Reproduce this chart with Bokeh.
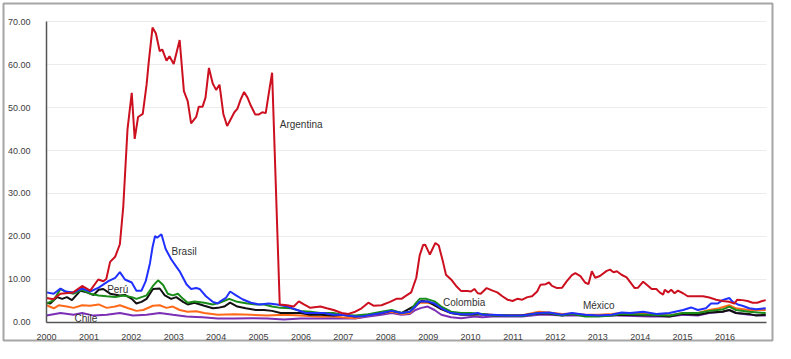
from bokeh.plotting import figure
from bokeh.models import Range1d, FixedTicker, NumeralTickFormatter, ColumnDataSource
from bokeh.core.properties import value
from bokeh.embed import file_html
from bokeh.resources import INLINE

# ---------------- data (decimal years, percent) ----------------
arg_t = [2000.00, 2000.16, 2000.33, 2000.63, 2000.84, 2001.03, 2001.22, 2001.34, 2001.41, 2001.50,
         2001.62, 2001.73, 2001.81, 2001.91, 2002.01, 2002.08, 2002.16, 2002.27, 2002.36, 2002.41,
         2002.50, 2002.58, 2002.67, 2002.73, 2002.83, 2002.90, 2003.00, 2003.14, 2003.24, 2003.33,
         2003.41, 2003.53, 2003.59, 2003.68, 2003.75, 2003.83, 2003.92, 2004.00, 2004.08, 2004.17,
         2004.26, 2004.35, 2004.43, 2004.50, 2004.58, 2004.66, 2004.74, 2004.82, 2004.92, 2005.01,
         2005.09, 2005.17, 2005.25, 2005.32, 2005.50, 2005.67, 2005.83, 2005.95, 2006.07, 2006.22,
         2006.46, 2006.61, 2006.77, 2006.96, 2007.12, 2007.28, 2007.43, 2007.59, 2007.71, 2007.90,
         2008.10, 2008.25, 2008.37, 2008.49, 2008.60, 2008.72, 2008.80, 2008.88, 2008.93, 2009.04,
         2009.17, 2009.25, 2009.35, 2009.42, 2009.54, 2009.66, 2009.78, 2009.93, 2010.01, 2010.09,
         2010.17, 2010.24, 2010.38, 2010.52, 2010.63, 2010.75, 2010.87, 2010.99, 2011.10, 2011.22,
         2011.34, 2011.45, 2011.57, 2011.65, 2011.77, 2011.85, 2011.92, 2012.04, 2012.16, 2012.27,
         2012.39, 2012.47, 2012.59, 2012.70, 2012.78, 2012.86, 2012.94, 2013.05, 2013.21, 2013.29,
         2013.37, 2013.45, 2013.56, 2013.68, 2013.80, 2013.87, 2013.95, 2014.07, 2014.19, 2014.27,
         2014.38, 2014.46, 2014.54, 2014.58, 2014.66, 2014.73, 2014.81, 2014.89, 2015.01, 2015.12,
         2015.24, 2015.48, 2015.63, 2015.79, 2015.94, 2016.10, 2016.22, 2016.29, 2016.41, 2016.53,
         2016.65, 2016.76, 2016.88, 2016.96]
arg_v = [5.7, 5.4, 6.7, 7.0, 8.5, 7.4, 10.0, 9.6, 10.1, 14.1,
         15.3, 18.2, 26.9, 44.9, 53.4, 42.7, 47.8, 48.5, 55.3, 60.5,
         68.6, 67.2, 63.1, 63.5, 60.9, 61.9, 60.1, 65.7, 53.8, 51.5,
         46.3, 47.8, 50.2, 50.2, 52.3, 59.2, 55.6, 54.1, 55.3, 48.5,
         45.7, 47.4, 48.9, 49.7, 51.9, 53.6, 52.3, 50.4, 48.4, 48.4,
         48.9, 48.7, 53.8, 58.1, 4.2, 4.0, 3.7, 4.9, 4.2, 3.4,
         3.7, 3.3, 2.9, 2.2, 2.0, 2.5, 3.3, 4.6, 3.9, 4.0,
         4.8, 5.5, 5.5, 6.3, 7.0, 10.4, 15.6, 18.0, 18.1, 15.8,
         18.5, 17.9, 14.1, 11.1, 10.0, 8.5, 7.3, 7.3, 7.2, 7.8,
         6.8, 6.7, 8.0, 7.4, 7.0, 6.1, 5.3, 5.0, 5.5, 5.3,
         5.9, 6.1, 7.2, 8.8, 8.9, 9.3, 8.5, 8.0, 8.1, 9.6,
         11.0, 11.5, 10.8, 9.3, 8.9, 11.9, 10.4, 10.8, 12.0, 12.3,
         11.7, 11.9, 11.1, 10.5, 8.9, 8.0, 8.1, 9.5, 8.5, 7.8,
         7.8, 7.0, 6.5, 7.6, 7.0, 7.6, 6.8, 7.4, 6.8, 6.1,
         6.1, 6.1, 5.8, 5.3, 5.0, 4.8, 4.4, 5.3, 5.2, 5.0,
         4.6, 4.6, 5.0, 5.2]

bra_t = [2000.00, 2000.17, 2000.33, 2000.45, 2000.64, 2000.84, 2001.03, 2001.23, 2001.46, 2001.62,
         2001.73, 2001.85, 2002.01, 2002.12, 2002.24, 2002.34, 2002.44, 2002.50, 2002.56, 2002.61,
         2002.71, 2002.81, 2002.94, 2003.06, 2003.14, 2003.30, 2003.41, 2003.53, 2003.61, 2003.76,
         2003.92, 2004.04, 2004.08, 2004.23, 2004.33, 2004.47, 2004.62, 2004.82, 2005.01, 2005.25,
         2005.44, 2005.68, 2005.91, 2006.11, 2006.34, 2006.54, 2006.77, 2006.96, 2007.28, 2007.44,
         2007.67, 2007.90, 2008.14, 2008.37, 2008.57, 2008.70, 2008.80, 2008.99, 2009.15, 2009.31,
         2009.54, 2009.78, 2010.01, 2010.17, 2010.28, 2010.52, 2010.83, 2011.22, 2011.61, 2011.85,
         2012.16, 2012.39, 2012.70, 2013.02, 2013.33, 2013.56, 2013.76, 2014.07, 2014.38, 2014.69,
         2015.01, 2015.20, 2015.36, 2015.55, 2015.67, 2015.83, 2015.94, 2016.10, 2016.18, 2016.30,
         2016.41, 2016.57, 2016.73, 2016.96]
bra_v = [7.0, 6.7, 7.9, 7.2, 7.0, 7.9, 7.2, 8.1, 9.6, 10.4,
         11.7, 10.0, 9.3, 7.4, 7.4, 9.6, 13.8, 17.5, 20.1, 19.7,
         20.5, 17.1, 14.7, 13.0, 11.9, 8.9, 7.8, 8.0, 7.8, 6.1,
         4.8, 4.4, 4.8, 5.7, 7.2, 6.3, 5.4, 4.6, 4.2, 4.4,
         4.2, 3.7, 2.9, 2.2, 2.2, 2.2, 1.8, 1.8, 1.4, 1.4,
         1.8, 2.2, 2.7, 2.2, 2.5, 3.7, 4.9, 4.9, 4.4, 3.3,
         2.2, 1.9, 1.9, 2.2, 1.8, 1.8, 1.6, 1.6, 2.2, 2.3,
         1.8, 2.2, 1.8, 1.6, 1.8, 2.3, 2.2, 2.5, 2.0, 2.2,
         2.9, 3.5, 2.9, 3.3, 4.4, 4.4, 5.2, 5.7, 4.8, 4.2,
         3.9, 3.3, 3.1, 3.3]

per_t = [2000.00, 2000.09, 2000.25, 2000.37, 2000.48, 2000.60, 2000.80, 2000.95, 2001.11, 2001.23,
         2001.34, 2001.50, 2001.73, 2001.85, 2002.01, 2002.12, 2002.24, 2002.36, 2002.51, 2002.67,
         2002.79, 2002.94, 2003.06, 2003.22, 2003.33, 2003.49, 2003.72, 2003.92, 2004.04, 2004.19,
         2004.33, 2004.50, 2004.70, 2004.94, 2005.13, 2005.32, 2005.52, 2005.76, 2005.99, 2006.22,
         2006.46, 2006.77, 2006.96, 2007.28, 2007.59, 2007.90, 2008.14, 2008.37, 2008.70, 2008.84,
         2008.99, 2009.15, 2009.31, 2009.54, 2009.78, 2010.01, 2010.28, 2010.52, 2010.83, 2011.22,
         2011.61, 2011.85, 2012.16, 2012.39, 2012.70, 2013.02, 2013.33, 2013.56, 2014.07, 2014.38,
         2014.69, 2015.01, 2015.36, 2015.63, 2015.94, 2016.10, 2016.26, 2016.57, 2016.73, 2016.96]
per_v = [4.6, 4.4, 5.9, 5.5, 5.9, 5.2, 7.4, 7.0, 6.4, 7.6,
         7.8, 6.7, 6.3, 6.4, 5.5, 4.4, 4.8, 5.5, 7.8, 7.9,
         6.3, 5.5, 5.9, 4.8, 4.2, 4.6, 3.9, 3.3, 3.4, 3.7,
         4.6, 3.7, 3.3, 2.9, 2.9, 2.7, 2.2, 2.2, 2.2, 1.8,
         1.8, 1.6, 1.8, 1.4, 1.8, 2.2, 2.7, 2.2, 4.0, 5.0,
         4.9, 4.0, 3.1, 2.2, 1.8, 1.8, 1.9, 1.7, 1.6, 1.7,
         2.1, 2.1, 1.7, 2.0, 1.6, 1.5, 1.7, 1.8, 1.7, 1.6,
         1.4, 2.0, 1.8, 2.3, 2.5, 2.9, 2.2, 2.0, 1.6, 1.8]

col_t = [2000.00, 2000.17, 2000.33, 2000.48, 2000.64, 2000.84, 2001.03, 2001.23, 2001.42, 2001.62,
         2001.81, 2002.01, 2002.12, 2002.24, 2002.36, 2002.51, 2002.63, 2002.75, 2002.86, 2002.98,
         2003.10, 2003.22, 2003.33, 2003.49, 2003.72, 2003.92, 2004.08, 2004.31, 2004.50, 2004.74,
         2004.94, 2005.13, 2005.32, 2005.52, 2005.76, 2005.99, 2006.22, 2006.46, 2006.77, 2006.96,
         2007.28, 2007.59, 2007.90, 2008.14, 2008.37, 2008.57, 2008.70, 2008.80, 2008.96, 2009.15,
         2009.31, 2009.54, 2009.78, 2010.01, 2010.28, 2010.52, 2010.83, 2011.22, 2011.61, 2011.85,
         2012.16, 2012.39, 2012.70, 2013.02, 2013.33, 2013.56, 2014.23, 2014.69, 2015.01, 2015.36,
         2015.63, 2015.94, 2016.10, 2016.26, 2016.57, 2016.96]
col_v = [4.4, 5.2, 7.8, 7.0, 6.7, 7.6, 6.7, 6.3, 6.1, 5.9,
         6.3, 5.9, 5.5, 5.9, 6.3, 8.5, 9.8, 8.7, 6.7, 6.3,
         6.7, 5.5, 4.6, 4.9, 4.6, 4.2, 4.6, 5.5, 4.8, 4.4,
         4.2, 4.2, 3.7, 3.4, 3.3, 2.7, 2.5, 2.2, 2.2, 1.8,
         1.6, 1.9, 2.5, 2.9, 2.2, 2.5, 4.4, 5.5, 5.5, 4.9,
         3.7, 2.5, 2.2, 2.2, 2.0, 1.6, 1.6, 1.5, 2.2, 2.2,
         1.6, 2.0, 1.4, 1.4, 1.6, 2.0, 1.8, 1.6, 2.2, 2.2,
         2.7, 3.0, 3.7, 2.9, 2.5, 2.2]

mex_t = [2000.00, 2000.17, 2000.29, 2000.48, 2000.64, 2000.84, 2001.03, 2001.23, 2001.42, 2001.62,
         2001.73, 2001.93, 2002.12, 2002.28, 2002.51, 2002.67, 2002.83, 2002.98, 2003.14, 2003.33,
         2003.53, 2003.72, 2004.04, 2004.43, 2004.82, 2005.21, 2005.60, 2005.99, 2006.38, 2006.77,
         2006.96, 2007.28, 2007.59, 2007.90, 2008.14, 2008.37, 2008.57, 2008.70, 2008.80, 2008.99,
         2009.15, 2009.31, 2009.54, 2009.78, 2010.01, 2010.28, 2010.52, 2010.83, 2011.22, 2011.61,
         2011.85, 2012.16, 2012.39, 2012.70, 2013.02, 2013.33, 2013.56, 2014.23, 2014.69, 2015.01,
         2015.36, 2015.63, 2015.86, 2016.10, 2016.26, 2016.57, 2016.96]
mex_v = [4.0, 3.3, 4.0, 3.7, 3.4, 4.0, 3.9, 4.2, 3.4, 3.7,
         4.0, 3.3, 2.7, 2.9, 3.9, 4.0, 3.4, 3.7, 2.9, 2.5,
         2.6, 2.2, 1.8, 1.9, 1.8, 1.6, 1.8, 1.6, 1.4, 1.4,
         1.2, 1.0, 1.6, 2.2, 2.5, 2.0, 2.2, 3.7, 4.6, 4.6,
         4.2, 3.1, 2.2, 2.0, 2.0, 1.9, 1.8, 1.7, 1.7, 2.5,
         2.3, 2.0, 2.1, 1.8, 1.8, 2.0, 2.2, 2.0, 1.6, 2.2,
         2.2, 2.9, 3.3, 4.0, 3.3, 2.9, 2.9]

chi_t = [2000.00, 2000.33, 2000.64, 2000.84, 2001.11, 2001.42, 2001.73, 2002.04, 2002.36, 2002.67,
         2002.98, 2003.30, 2003.53, 2003.68, 2004.04, 2004.43, 2004.82, 2005.21, 2005.60, 2005.99,
         2006.38, 2006.77, 2006.96, 2007.28, 2007.59, 2007.90, 2008.14, 2008.37, 2008.57, 2008.70,
         2008.84, 2008.99, 2009.15, 2009.31, 2009.54, 2009.78, 2010.09, 2010.28, 2010.52, 2010.83,
         2011.22, 2011.61, 2011.85, 2012.16, 2012.70, 2013.02, 2013.45, 2014.23, 2014.69, 2015.01,
         2015.36, 2015.63, 2015.94, 2016.10, 2016.26, 2016.57, 2016.96]
chi_v = [1.6, 2.2, 1.8, 2.2, 1.6, 1.8, 2.2, 1.6, 1.8, 2.2,
         1.8, 1.4, 1.3, 1.2, 0.9, 0.9, 1.0, 0.9, 0.7, 0.9,
         0.9, 1.0, 0.9, 0.9, 1.4, 1.8, 2.2, 1.8, 2.0, 2.9,
         3.4, 3.7, 2.9, 1.8, 1.2, 1.0, 1.4, 1.2, 1.4, 1.4,
         1.4, 1.8, 1.8, 1.6, 1.6, 1.6, 1.6, 1.4, 1.4, 1.8,
         1.6, 2.2, 2.5, 2.9, 2.2, 1.8, 1.6]

label_names = ["Argentina", "Brasil", "Perú", "Chile", "Colombia", "México"]
label_t = [2005.50, 2002.95, 2001.43, 2000.66, 2009.35, 2012.65]
label_v = [46.0, 16.6, 7.6, 0.9, 4.7, 4.0]

year_ticks = list(range(2000, 2017))
value_ticks = [0, 10, 20, 30, 40, 50, 60, 70]
x_start, x_end = 2000.0, 2016.98

# ---------------- figure ----------------
# The plot frame is used as the outer grey box; the axes sit inside it
# at fixed data locations (2000 and 0).
p = figure(width=775, height=343, output_backend="svg", toolbar_location=None,
           x_range=Range1d(1998.986, 2017.12), y_range=Range1d(-4.19, 74.19),
           min_border_left=3, min_border_right=3, min_border_top=3, min_border_bottom=3)
p.outline_line_color = "#a6a6a6"
p.outline_line_width = 2
p.background_fill_color = "white"
p.border_fill_color = "white"

p.xgrid.grid_line_color = None
p.ygrid.grid_line_color = None
# horizontal gridlines limited to the plotting area
p.segment(x0=[x_start] * len(value_ticks), x1=[x_end] * len(value_ticks),
          y0=value_ticks, y1=value_ticks, line_color="#ececec", line_width=1,
          level="underlay")

p.xaxis.ticker = FixedTicker(ticks=year_ticks)
p.xaxis.formatter = NumeralTickFormatter(format="0")
p.yaxis.ticker = FixedTicker(ticks=value_ticks)
p.yaxis.formatter = NumeralTickFormatter(format="0.00")
p.xaxis.fixed_location = 0
p.yaxis.fixed_location = x_start
p.xaxis.bounds = (x_start, x_end)
p.yaxis.bounds = (0, 70)

for ax in (p.xaxis[0], p.yaxis[0]):
    ax.axis_line_color = "#555555"
    ax.axis_line_width = 1.5
    ax.major_tick_line_color = None
    ax.minor_tick_line_color = None
    ax.major_label_text_font = "Liberation Sans"
    ax.major_label_text_font_size = "9px"
    ax.major_label_text_color = "#404040"
p.yaxis.major_label_standoff = 10
p.xaxis.major_label_standoff = 6

series = [
    (chi_t, chi_v, "#7b2fb5"),
    (mex_t, mex_v, "#ff6a1a"),
    (per_t, per_v, "#111111"),
    (col_t, col_v, "#1a8c1a"),
    (bra_t, bra_v, "#2030ff"),
    (arg_t, arg_v, "#cc1020"),
]
for t, v, c in series:
    p.line(t, v, line_color=c, line_width=2)

lab = ColumnDataSource(dict(x=label_t, y=label_v, text=label_names))
p.text(x="x", y="y", text="text", source=lab, text_font=value("Liberation Sans"),
       text_font_size="10px", text_color="#333333", text_align="left", text_baseline="middle")

open("out.html", "w").write(file_html(p, INLINE))
